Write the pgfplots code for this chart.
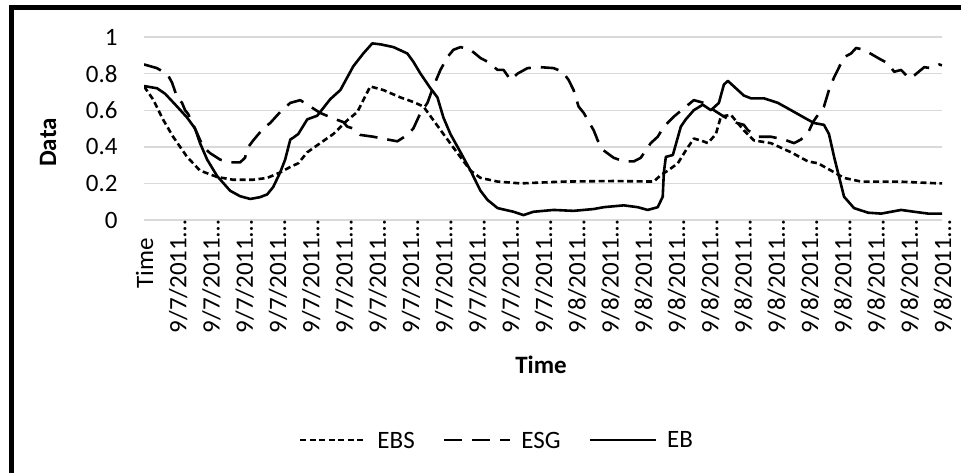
\documentclass[border=0pt]{standalone}
\usepackage{fontspec}
\setmainfont{Carlito}
\usepackage{pgfplots}
\pgfplotsset{compat=1.18}

\begin{document}
\begin{tikzpicture}[x=1pt,y=1pt]
\path[use as bounding box] (0,0) rectangle (480.5,236);
\begin{scope}
\clip (0,0) rectangle (480.5,236);
\draw[line width=2.5pt, line join=miter] (5.6,-10) -- (5.6,232) -- (500,232);
\end{scope}
\begin{axis}[
  at={(72pt,126pt)}, anchor=south west,
  scale only axis, width=399pt, height=91.5pt,
  xmin=0, xmax=48, ymin=0, ymax=1,
  axis line style={draw=none}, tick style={draw=none}, major tick length=0pt,
  ymajorgrids, major grid style={draw=black!15, line width=0.7pt},
  ytick={0,0.2,0.4,0.6,0.8,1},
  yticklabels={0,0.2,0.4,0.6,0.8,1},
  yticklabel style={font=\fontsize{12.5}{15}\selectfont, anchor=east, inner sep=0pt, xshift=-13pt},
  xtick={0,2,...,48},
  xticklabels={Time\kern9pt,
    9/7/2011…,9/7/2011…,9/7/2011…,9/7/2011…,9/7/2011…,9/7/2011…,
    9/7/2011…,9/7/2011…,9/7/2011…,9/7/2011…,9/7/2011…,9/7/2011…,
    9/8/2011…,9/8/2011…,9/8/2011…,9/8/2011…,9/8/2011…,9/8/2011…,
    9/8/2011…,9/8/2011…,9/8/2011…,9/8/2011…,9/8/2011…,9/8/2011…},
  xticklabel style={font=\fontsize{12.5}{15}\selectfont, xshift=4.6pt, rotate=90, anchor=base east, inner sep=0pt},
  xlabel={\textbf{Time}},
  xlabel style={font=\fontsize{12.5}{15}\selectfont, at={(axis description cs:0.4975,-0.792)}, anchor=center},
  ylabel={\textbf{Data}},
  ylabel style={font=\fontsize{12.5}{15}\selectfont, at={(axis description cs:-0.1203,0.4235)}, anchor=center},
  every axis plot/.append style={black, line width=1.3pt, line join=round, mark=none},
  legend columns=3,
  legend image code/.code={\draw[#1] (0pt,0pt) -- (33pt,0pt);},
  legend style={draw=none, fill=none, at={(axis description cs:0.441,-1.202)}, anchor=center,
    font=\fontsize{12.5}{15}\selectfont, inner sep=0pt, column sep=0pt, row sep=0pt,
    cells={anchor=west}, nodes={inner sep=0pt, text depth=0pt}},
]
% EBS
\addplot[dash pattern=on 3pt off 1.75pt] coordinates {
(0,0.73) (0.54,0.66) (1.14,0.55) (1.75,0.455) (2.59,0.345) (3.37,0.27) (4.40,0.235)
(5.36,0.22) (6.57,0.22) (7.41,0.23) (8.19,0.26) (8.80,0.29) (9.28,0.31) (9.82,0.37)
(10.60,0.42) (11.39,0.47) (12.23,0.545) (12.83,0.59) (13.19,0.655) (13.61,0.73)
(14.40,0.71) (15.42,0.67) (16.20,0.645) (16.81,0.62) (17.41,0.545) (18.01,0.47)
(18.86,0.365) (19.64,0.27) (20.24,0.23) (21.27,0.21) (22.65,0.20) (25.24,0.21)
(28.25,0.213) (30.66,0.21) (31.08,0.245) (31.51,0.27) (32.11,0.31) (32.59,0.38)
(33.07,0.445) (33.49,0.435) (33.92,0.42) (34.40,0.47) (34.70,0.565) (35.30,0.575)
(36.08,0.49) (36.69,0.435) (37.71,0.42) (38.92,0.37) (39.94,0.32) (40.54,0.31)
(41.33,0.27) (42.11,0.23) (43.13,0.21) (45.36,0.21) (47.83,0.20) (48,0.20)
};
\addlegendentry{\kern5pt EBS\kern14pt}
% ESG
\addplot[dash pattern=on 9pt off 5pt] coordinates {
(0,0.85) (0.78,0.83) (1.14,0.81) (1.45,0.79) (1.69,0.75) (1.99,0.67) (2.29,0.64)
(2.47,0.60) (2.65,0.58) (3.19,0.475) (3.55,0.40) (3.98,0.365) (4.58,0.33) (5.18,0.315)
(5.78,0.315) (6.08,0.34) (6.20,0.39) (6.57,0.435) (7.17,0.50) (7.59,0.53) (8.19,0.59)
(8.80,0.64) (9.40,0.655) (10.00,0.62) (10.60,0.585) (11.39,0.555) (11.99,0.535)
(12.23,0.51) (12.59,0.50) (13.01,0.465) (13.80,0.455) (14.64,0.44) (15.24,0.43)
(15.84,0.465) (16.20,0.50) (16.63,0.585) (17.05,0.64) (17.41,0.73) (17.83,0.82)
(18.25,0.89) (18.61,0.93) (19.04,0.945) (19.64,0.93) (20.24,0.885) (20.66,0.865)
(21.27,0.82) (21.63,0.82) (22.05,0.765) (22.47,0.80) (23.07,0.83) (23.86,0.835)
(24.64,0.83) (25.18,0.81) (25.54,0.765) (25.84,0.71) (26.14,0.62) (26.45,0.585)
(27.05,0.49) (27.29,0.435) (27.65,0.38) (28.25,0.34) (28.86,0.32) (29.46,0.32)
(29.88,0.34) (30.18,0.38) (30.48,0.42) (30.90,0.455) (31.27,0.51) (31.87,0.565)
(32.47,0.61) (33.07,0.655) (33.67,0.64) (34.28,0.60) (34.88,0.565) (35.48,0.535)
(36.08,0.52) (36.33,0.49) (36.93,0.455) (37.71,0.455) (38.49,0.44) (39.10,0.42)
(39.52,0.44) (39.94,0.475) (40.24,0.535) (40.54,0.575) (40.90,0.62) (41.20,0.71)
(41.51,0.78) (41.81,0.835) (42.11,0.89) (42.53,0.91) (42.83,0.94) (43.31,0.93)
(44.16,0.885) (44.76,0.855) (45.12,0.81) (45.54,0.82) (46.02,0.775) (46.33,0.79)
(46.93,0.835) (47.35,0.83) (47.83,0.85) (48,0.845)
};
\addlegendentry{\kern5pt ESG\kern14pt}
% EB
\addplot[solid] coordinates {
(0,0.732) (0.78,0.72) (1.27,0.69) (1.99,0.62) (2.59,0.56) (3.07,0.50) (3.37,0.42)
(3.80,0.33) (4.40,0.24) (5.18,0.16) (5.78,0.13) (6.39,0.115) (6.99,0.125) (7.41,0.14)
(7.77,0.18) (8.19,0.26) (8.49,0.33) (8.80,0.44) (8.98,0.45) (9.28,0.47) (9.82,0.55)
(10.42,0.57) (11.20,0.66) (11.81,0.71) (12.23,0.78) (12.59,0.84) (13.19,0.91)
(13.73,0.965) (14.22,0.96) (15.00,0.945) (15.84,0.91) (16.20,0.865) (16.63,0.80)
(17.23,0.72) (17.65,0.67) (18.01,0.56) (18.43,0.47) (19.04,0.37) (19.64,0.27)
(20.24,0.16) (20.66,0.11) (21.27,0.065) (22.23,0.045) (22.83,0.027) (23.43,0.045)
(24.64,0.055) (25.84,0.05) (27.05,0.06) (27.65,0.07) (28.86,0.08) (29.70,0.07)
(30.30,0.055) (30.90,0.07) (31.20,0.127) (31.27,0.26) (31.39,0.345) (31.81,0.355)
(32.29,0.51) (32.59,0.55) (33.07,0.60) (33.61,0.63) (34.10,0.60) (34.58,0.64)
(34.88,0.74) (35.12,0.76) (35.48,0.73) (36.08,0.68) (36.51,0.665) (37.29,0.665)
(38.13,0.64) (38.92,0.60) (39.70,0.56) (40.30,0.53) (40.90,0.52) (41.20,0.47)
(41.51,0.345) (41.81,0.235) (42.11,0.127) (42.71,0.065) (43.55,0.04) (44.34,0.035)
(45.54,0.055) (46.33,0.045) (47.17,0.035) (47.83,0.035) (48,0.035)
};
\addlegendentry{\kern5pt EB}
\end{axis}
\end{tikzpicture}
\end{document}
